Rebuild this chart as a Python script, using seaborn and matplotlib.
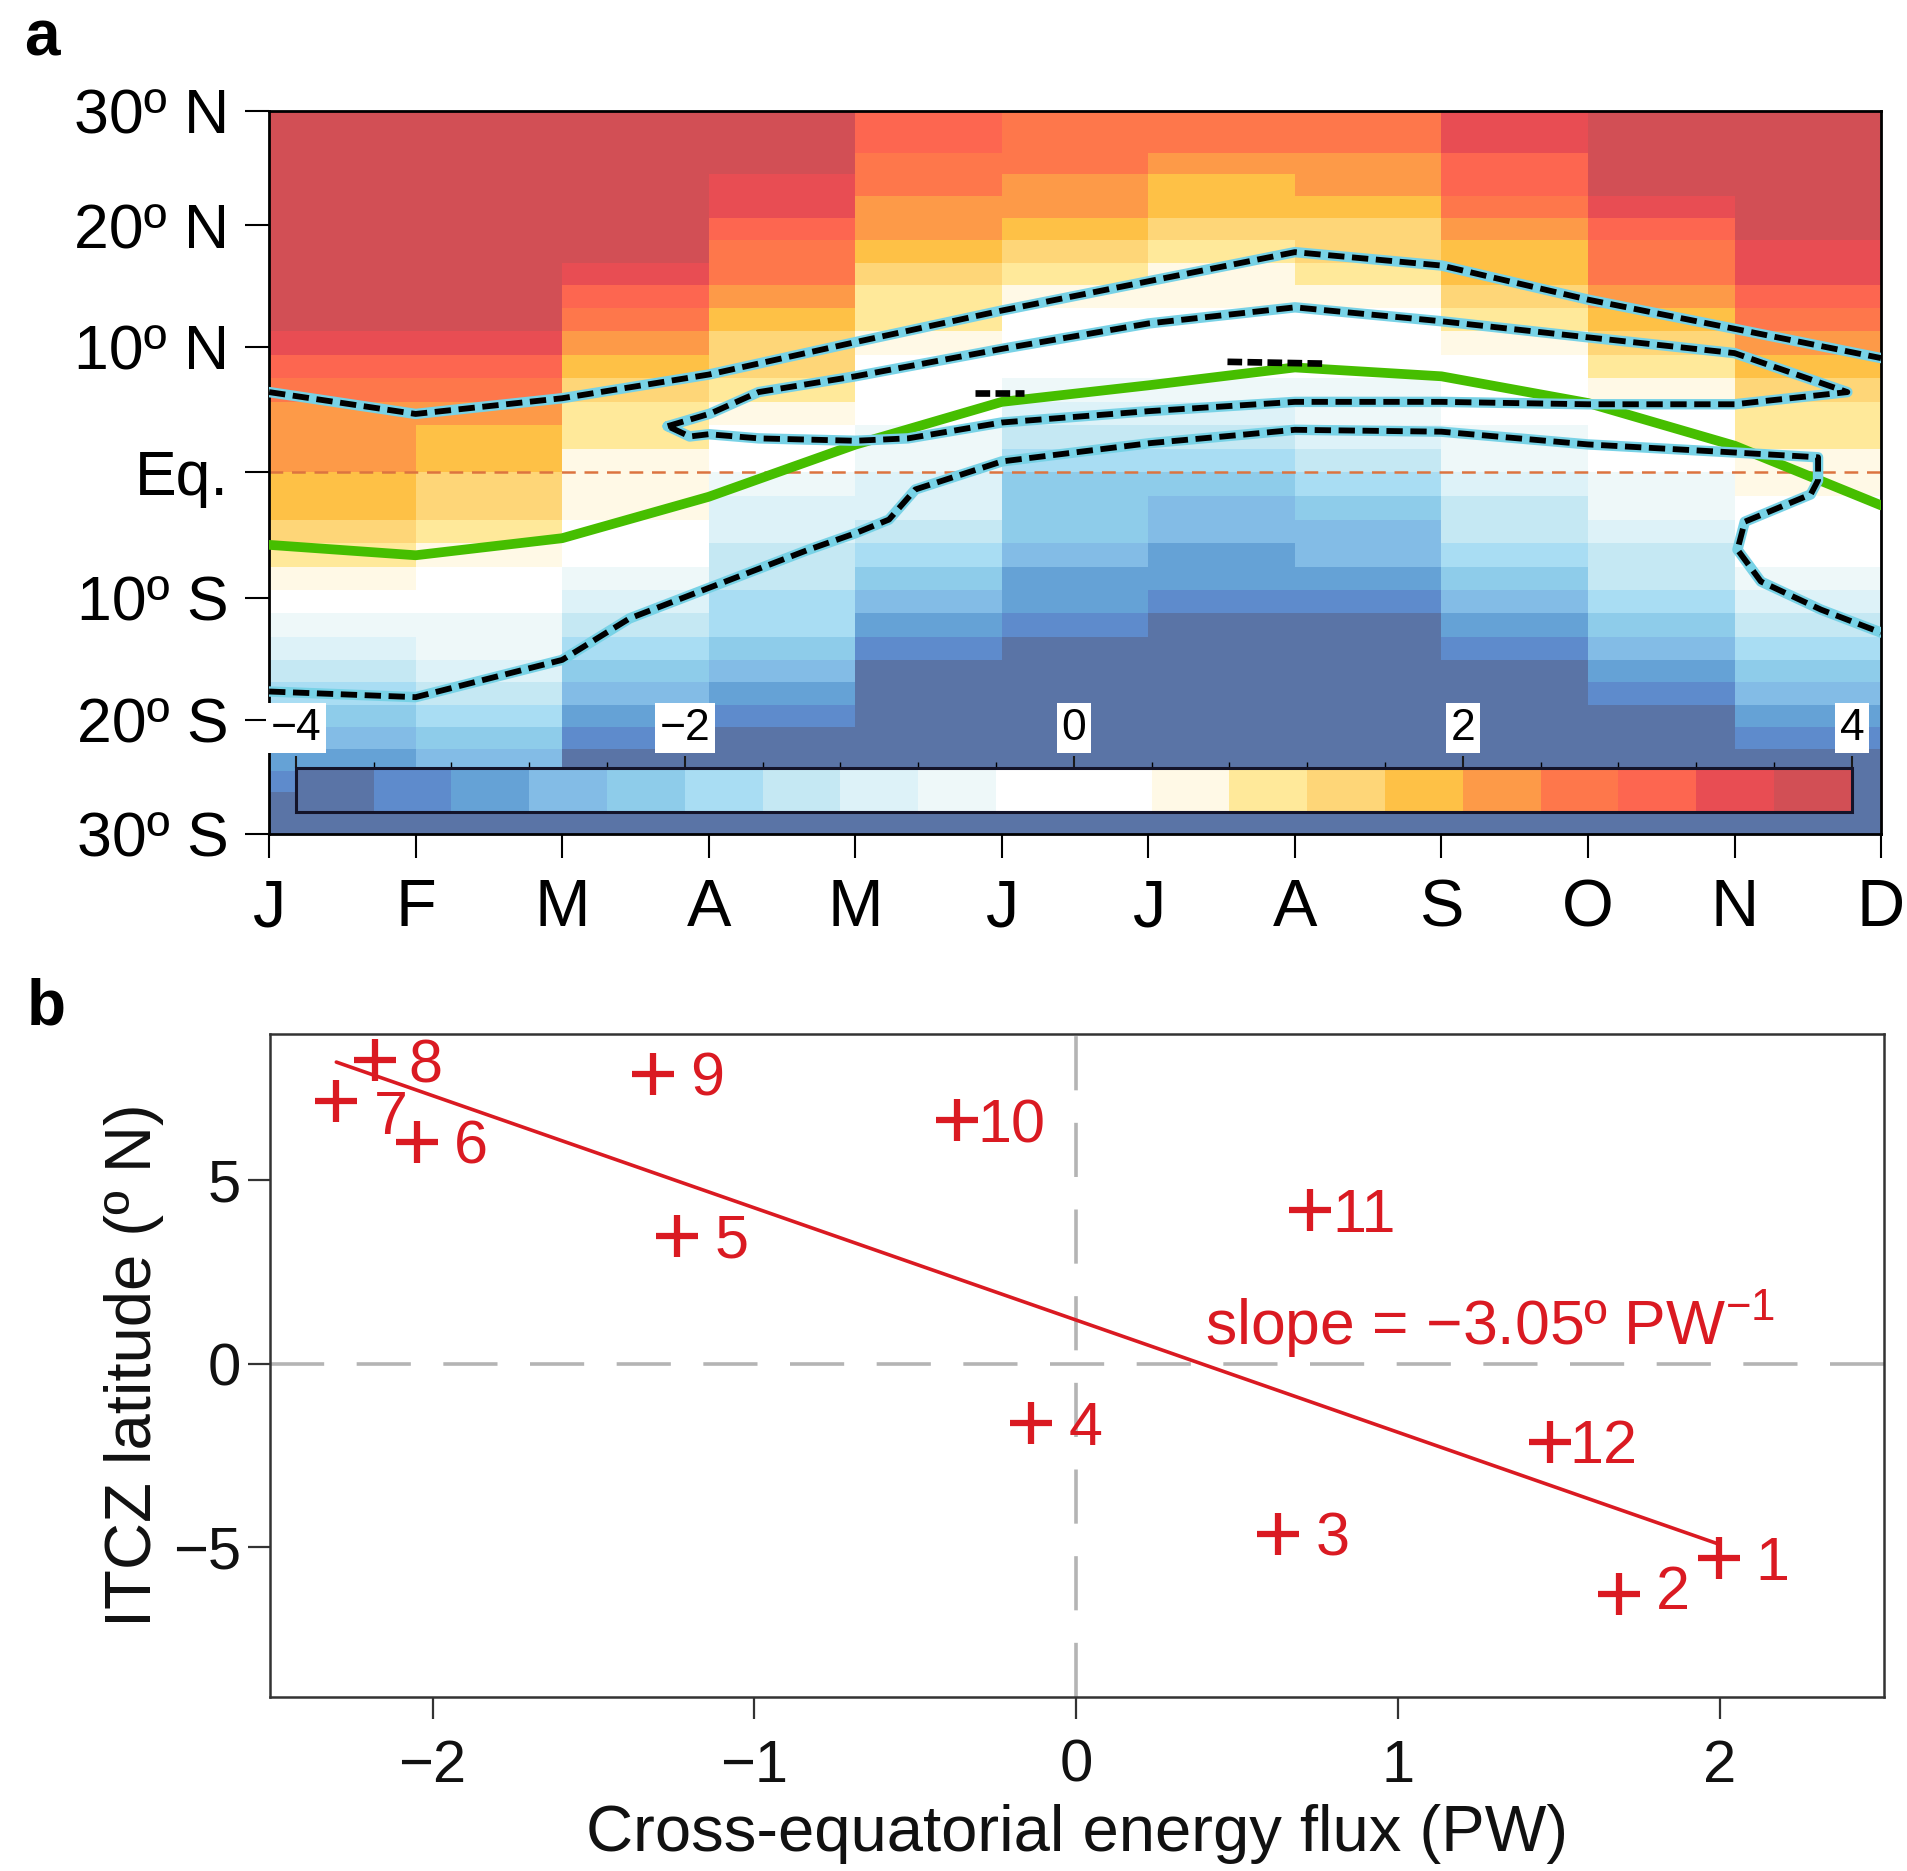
import numpy as np
import matplotlib
matplotlib.use("Agg")
import matplotlib.pyplot as plt
import matplotlib.ticker as mticker
from matplotlib.colors import ListedColormap, BoundaryNorm
from matplotlib.cm import ScalarMappable
import seaborn as sns

sns.set_theme(style="ticks")
plt.rcParams["font.family"] = ["Liberation Sans", "DejaVu Sans"]
plt.rcParams["mathtext.fontset"] = "custom"
plt.rcParams["mathtext.rm"] = "Liberation Sans"
plt.rcParams["mathtext.it"] = "Liberation Sans:italic"
plt.rcParams["mathtext.bf"] = "Liberation Sans:bold"
plt.rcParams["axes.unicode_minus"] = True
plt.rcParams["text.color"] = "black"
plt.rcParams["axes.labelcolor"] = "black"
plt.rcParams["xtick.color"] = "black"
plt.rcParams["ytick.color"] = "black"

# ---------------------------------------------------------------- panel a data
month_letters = ["J", "F", "M", "A", "M", "J", "J", "A", "S", "O", "N", "D"]
lat_ticks = [-30, -20, -10, 0, 10, 20, 30]
lat_tick_labels = ["30º S", "20º S", "10º S", "Eq.", "10º N", "20º N", "30º N"]
cbar_ticks = [-4, -2, 0, 2, 4]

# latitude bands, 30º S to 30º N
lat_edges = np.linspace(-30, 30, 33)

# monthly field, one column per month (south -> north)
field_jan = [-3.8, -3.8, -3.4, -3.0, -2.6, -2.2, -1.8, -1.4, -1.0, -0.6, -0.2, 0.6, 1.0, 1.4, 1.8, 1.8,
             2.2, 2.2, 2.2, 2.6, 3.0, 3.4, 3.8, 3.8, 3.8, 3.8, 3.8, 3.8, 3.8, 3.8, 3.8, 3.8]
field_feb = [-3.8, -3.4, -3.0, -2.6, -2.2, -1.8, -1.4, -1.0, -0.6, -0.6, -0.2, 0.2, 0.6, 1.0, 1.4, 1.4,
             1.8, 1.8, 2.2, 2.6, 3.0, 3.4, 3.8, 3.8, 3.8, 3.8, 3.8, 3.8, 3.8, 3.8, 3.8, 3.8]
field_mar = [-3.8, -3.8, -3.8, -3.8, -3.4, -3.0, -2.6, -2.2, -1.8, -1.4, -1.0, -0.6, 0.2, 0.2, 0.6, 0.6,
             0.6, 1.0, 1.0, 1.4, 1.8, 2.2, 2.6, 3.0, 3.4, 3.8, 3.8, 3.8, 3.8, 3.8, 3.8, 3.8]
field_apr = [-3.8, -3.8, -3.8, -3.8, -3.8, -3.4, -3.0, -2.6, -2.2, -1.8, -1.8, -1.4, -1.4, -1.0, -1.0, -0.6,
             -0.2, 0.2, 0.6, 1.0, 1.4, 1.4, 1.8, 2.2, 2.6, 2.6, 3.0, 3.4, 3.4, 3.8, 3.8, 3.8]
field_may = [-3.8, -3.8, -3.8, -3.8, -3.8, -3.8, -3.8, -3.8, -3.4, -3.0, -2.6, -2.2, -1.8, -1.4, -1.0, -1.0,
             -0.6, -0.6, -0.2, 0.2, 0.2, 0.6, 1.0, 1.0, 1.4, 1.8, 2.2, 2.2, 2.6, 2.6, 3.0, 3.0]
field_jun = [-3.8, -3.8, -3.8, -3.8, -3.8, -3.8, -3.8, -3.8, -3.8, -3.4, -3.0, -3.0, -2.6, -2.2, -2.2, -2.2,
             -1.8, -1.4, -1.0, -0.6, -0.2, 0.2, 0.2, 0.6, 1.0, 1.4, 1.8, 2.2, 2.2, 2.6, 2.6, 2.6]
field_jul = [-3.8, -3.8, -3.8, -3.8, -3.8, -3.8, -3.8, -3.8, -3.8, -3.8, -3.4, -3.0, -3.0, -2.6, -2.6, -2.2,
             -1.8, -1.4, -1.0, -0.6, -0.2, 0.2, 0.2, 0.6, 0.6, 1.0, 1.4, 1.8, 1.8, 2.2, 2.6, 2.6]
field_aug = [-3.8, -3.8, -3.8, -3.8, -3.8, -3.8, -3.8, -3.8, -3.8, -3.8, -3.4, -3.0, -2.6, -2.6, -2.2, -1.8,
             -1.4, -1.0, -0.6, -0.6, -0.2, 0.2, 0.2, 0.6, 1.0, 1.4, 1.4, 1.8, 2.2, 2.2, 2.6, 2.6]
field_sep = [-3.8, -3.8, -3.8, -3.8, -3.8, -3.8, -3.8, -3.8, -3.4, -3.0, -2.6, -2.2, -1.8, -1.4, -1.4, -1.0,
             -0.6, -0.6, -0.2, 0.2, 0.2, 0.6, 1.0, 1.4, 1.8, 1.8, 2.2, 2.6, 3.0, 3.0, 3.4, 3.4]
field_oct = [-3.8, -3.8, -3.8, -3.8, -3.8, -3.8, -3.4, -3.0, -2.6, -2.2, -1.8, -1.4, -1.4, -1.0, -0.6, -0.6,
             -0.2, 0.2, 0.2, 0.6, 1.0, 1.4, 1.8, 2.2, 2.6, 2.6, 3.0, 3.4, 3.8, 3.8, 3.8, 3.8]
field_nov = [-3.8, -3.8, -3.8, -3.8, -3.4, -3.0, -2.6, -2.2, -1.8, -1.4, -1.0, -0.6, -0.2, 0.2, 0.2, 0.6,
             0.6, 1.0, 1.0, 1.4, 1.8, 2.2, 2.6, 3.0, 3.4, 3.4, 3.8, 3.8, 3.8, 3.8, 3.8, 3.8]

# ITCZ latitude (green curve)
itcz_month = [1, 2, 3, 4, 5, 6, 7, 8, 9, 10, 11, 12]
itcz_curve_lat = [-5.75, -6.58, -5.22, -1.93, 2.2, 5.60, 6.92, 8.35, 7.64, 5.51, 2.12, -2.61]

# dashed contours (month, latitude)
outer_month = [1, 2, 3, 4, 5, 6, 7, 8, 9, 10, 11, 12]
outer_lat = [6.38, 4.64, 5.89, 7.78, 10.38, 12.94, 15.33, 17.74, 16.63, 13.83, 11.46, 9.10]

loop_month = [3.72, 4.01, 4.34, 5.00, 6.00, 7.00, 8.00, 9.00, 10.00, 11.00, 11.77,
              11.00, 10.00, 9.00, 8.00, 7.00, 6.00, 5.36, 5.00, 4.34, 4.00, 3.87, 3.72]
loop_lat = [3.67, 4.67, 6.38, 7.64, 9.84, 11.89, 13.20, 12.07, 10.77, 9.50, 6.38,
            5.41, 5.41, 5.60, 5.60, 4.86, 3.96, 2.70, 2.51, 2.70, 3.03, 2.85, 3.67]

south_month = [1.00, 2.00, 3.00, 3.46, 4.01, 4.68, 5.00, 5.23, 5.41, 6.00, 7.01, 7.68,
               8.00, 9.00, 10.00, 11.00, 11.57, 11.57, 11.52, 11.07, 11.02, 11.18, 11.59, 12.00]
south_lat = [-17.64, -18.11, -15.03, -11.65, -9.15, -6.14, -4.83, -3.74, -1.35, 0.87, 2.32, 3.03,
             3.38, 3.23, 2.22, 1.58, 1.20, -0.63, -1.74, -3.91, -6.13, -8.68, -10.94, -12.80]

small_a_month = [7.54, 8.22]
small_a_lat = [8.80, 8.65]
small_b_month = [5.82, 6.15]
small_b_lat = [6.28, 6.28]

# ---------------------------------------------------------------- panel b data
month_number = [1, 2, 3, 4, 5, 6, 7, 8, 9, 10, 11, 12]
energy_flux = [1.996, 1.686, 0.628, -0.140, -1.240, -2.049, -2.299, -2.178, -1.316, -0.371, 0.726, 1.471]
itcz_lat = [-5.30, -6.26, -4.64, -1.62, 3.48, 6.03, 7.15, 8.25, 7.88, 6.62, 4.17, -2.12]

# ---------------------------------------------------------------- styling
palette = ["#5A74A6", "#5E8BCC", "#65A2D6", "#83BCE6", "#8ECCEA", "#A9DDF3", "#C5E8F3",
           "#DDF2F8", "#EEF8F9", "#FFFFFF", "#FFFFFF", "#FFF9E6", "#FFE99A", "#FED678",
           "#FEC146", "#FD9A48", "#FE774B", "#FD6650", "#E84D53", "#D24F55"]
cmap = ListedColormap(sns.color_palette(palette))
norm = BoundaryNorm(np.linspace(-4, 4, 21), cmap.N)
red = "#DA1A22"

fig = plt.figure(figsize=(19.07, 18.71), dpi=100)
ax_a = fig.add_axes([0.1411, 0.5543, 0.8453, 0.3864])
ax_b = fig.add_axes([0.1416, 0.0930, 0.8463, 0.3544])


def to_sine(lat):
    return np.sin(np.deg2rad(lat))


def from_sine(s):
    return np.rad2deg(np.arcsin(np.clip(s, -1, 1)))


ax_a.set_yscale("function", functions=(to_sine, from_sine))

field = np.column_stack([field_jan, field_feb, field_mar, field_apr, field_may, field_jun,
                         field_jul, field_aug, field_sep, field_oct, field_nov])
month_edges = np.arange(1, 13)
ax_a.pcolormesh(month_edges, lat_edges, field, cmap=cmap, norm=norm, shading="flat",
                antialiased=False, edgecolors="none", zorder=1)

ax_a.axhline(0, color="#DC7440", lw=1.8, dashes=(5.5, 3.5), zorder=2)
ax_a.plot(itcz_month, itcz_curve_lat, color="#46BE00", lw=7.0, zorder=3,
          solid_joinstyle="round")

halo = dict(color="#78D2E6", lw=7.5, solid_joinstyle="round", solid_capstyle="round", zorder=4)
dash = dict(color="black", lw=4.2, dashes=(2.8, 1.3), zorder=5)
for mm, ll in [(outer_month, outer_lat), (loop_month, loop_lat), (south_month, south_lat)]:
    ax_a.plot(mm, ll, **halo)
    ax_a.plot(mm, ll, **dash)
for mm, ll in [(small_a_month, small_a_lat), (small_b_month, small_b_lat)]:
    ax_a.plot(mm, ll, color="black", lw=4.8, dashes=(2.2, 0.8), zorder=5)

ax_a.set_xlim(1, 12)
ax_a.set_ylim(-30, 30)
ax_a.set_xticks(range(1, 13))
ax_a.set_xticklabels(month_letters)
ax_a.set_yticks(lat_ticks)
ax_a.set_yticklabels(lat_tick_labels)
ax_a.yaxis.set_minor_locator(mticker.NullLocator())
ax_a.tick_params(axis="both", direction="out", length=17, width=1.5, color="black",
                 labelcolor="black")
ax_a.tick_params(axis="y", labelsize=45, pad=12)
ax_a.tick_params(axis="x", labelsize=48, pad=15)
for sp in ax_a.spines.values():
    sp.set_linewidth(2.0)
    sp.set_color("black")

# colour key inside the map
cax = ax_a.inset_axes([0.0166, 0.0303, 0.9653, 0.0605])
cb = fig.colorbar(ScalarMappable(norm=norm, cmap=cmap), cax=cax, orientation="horizontal",
                  ticks=cbar_ticks)
cax.xaxis.set_ticks_position("top")
cax.tick_params(axis="x", length=9, width=1.5, color="#1a1a1a", labeltop=False, labelbottom=False)
cb.outline.set_linewidth(2.2)
cb.outline.set_edgecolor("#14142a")
for v in cbar_ticks:
    cax.text(v, 1.92, str(v).replace("-", "\u2212"), transform=cax.get_xaxis_transform(),
             ha="center", va="center", fontsize=32, color="black",
             bbox=dict(facecolor="white", edgecolor="none", pad=3.5))

# ---------------------------------------------------------------- panel b
ax_b.axhline(0, color="#B4B4B4", lw=2.6, dashes=(15, 9), zorder=0)
ax_b.axvline(0, color="#B4B4B4", lw=2.6, dashes=(15, 9), zorder=0)

sns.regplot(x=energy_flux, y=itcz_lat, ax=ax_b, scatter=False, ci=None, truncate=True,
            color=red, line_kws=dict(lw=2.6))
sns.scatterplot(x=energy_flux, y=itcz_lat, ax=ax_b, marker="+", s=900, linewidth=4.5,
                color=red, zorder=3, legend=False)

nudge = {7: (0, -8), 2: (0, 5), 8: (-3, 0)}
for m, fx, lt in zip(month_number, energy_flux, itcz_lat):
    dx, dy = nudge.get(m, (0, 0))
    ax_b.annotate(str(m), (fx, lt), xytext=(39 + dx, -15.7 + dy), textcoords="offset points",
                  ha="center", va="baseline", fontsize=44, color=red)

slope, intercept = np.polyfit(energy_flux, itcz_lat, 1)
slope_txt = f"{slope:.2f}".replace("-", "\u2212")
ax_b.text(0.40, 0.53, f"slope = {slope_txt}º PW$^{{-1}}$", fontsize=45, color=red,
          ha="left", va="baseline")

ax_b.set_xlim(-2.505, 2.51)
ax_b.set_ylim(-9.07, 8.97)
ax_b.set_xticks([-2, -1, 0, 1, 2])
ax_b.set_yticks([-5, 0, 5])
ax_b.tick_params(axis="both", direction="out", length=16, width=1.6, color="#333333",
                 labelsize=43, labelcolor="#111111")
ax_b.tick_params(axis="y", pad=5)
ax_b.tick_params(axis="x", pad=14)
for sp in ax_b.spines.values():
    sp.set_linewidth(1.8)
    sp.set_color("#333333")
ax_b.set_xlabel("Cross-equatorial energy flux (PW)", fontsize=47, color="#111111")
ax_b.set_ylabel("ITCZ latitude (º N)", fontsize=47, color="#111111")
ax_b.xaxis.set_label_coords(0.5, -0.162)
ax_b.yaxis.set_label_coords(-0.066, 0.5)

fig.text(0.0126, 0.9706, "a", fontsize=46, fontweight="bold", va="baseline", color="black")
fig.text(0.0142, 0.4522, "b", fontsize=46, fontweight="bold", va="baseline", color="black")

fig.savefig("out.png", dpi=100)
